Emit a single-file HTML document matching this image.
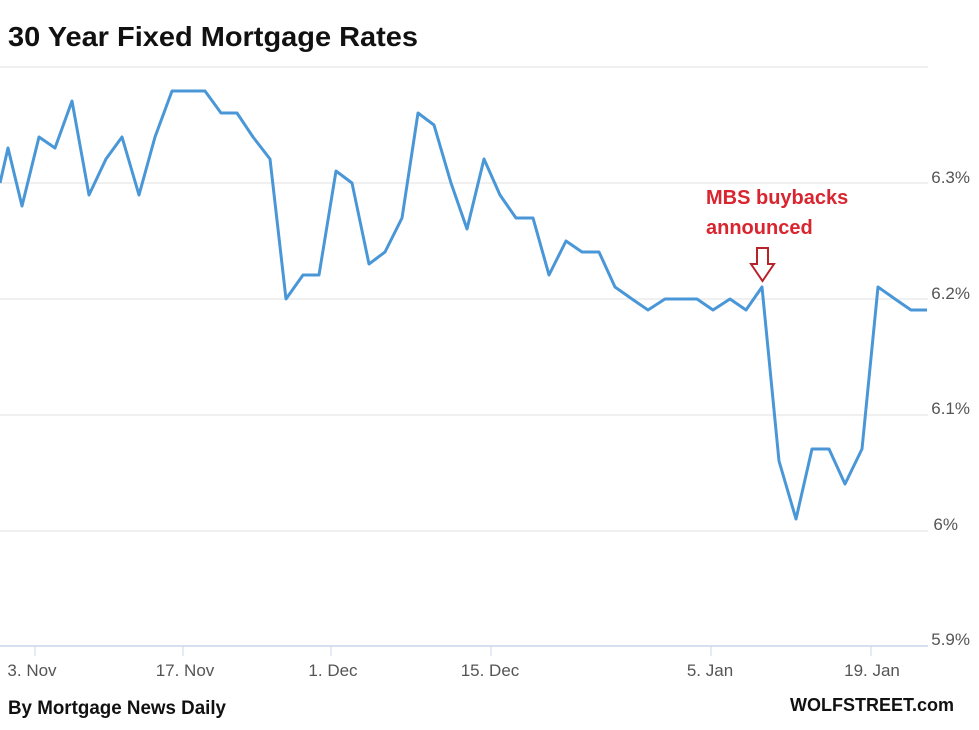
<!DOCTYPE html>
<html><head><style>
body{margin:0;background:#fff;width:979px;height:725px;overflow:hidden;font-family:"Liberation Sans",sans-serif}
</style></head><body>
<svg width="979" height="725" xmlns="http://www.w3.org/2000/svg">
<text x="8" y="46" font-size="28" font-weight="bold" fill="#111" textLength="410" lengthAdjust="spacingAndGlyphs">30 Year Fixed Mortgage Rates</text>
<g stroke="#e0e0e0" stroke-width="1">
<line x1="0" y1="67" x2="928" y2="67"/>
<line x1="0" y1="183" x2="928" y2="183"/>
<line x1="0" y1="299" x2="928" y2="299"/>
<line x1="0" y1="415" x2="928" y2="415"/>
<line x1="0" y1="531" x2="928" y2="531"/>
</g>
<line x1="0" y1="646" x2="928" y2="646" stroke="#ccd6eb" stroke-width="1.5"/>
<g stroke="#ccd6eb" stroke-width="1">
<line x1="35" y1="646" x2="35" y2="656"/><line x1="183" y1="646" x2="183" y2="656"/><line x1="331" y1="646" x2="331" y2="656"/>
<line x1="491" y1="646" x2="491" y2="656"/><line x1="711" y1="646" x2="711" y2="656"/><line x1="871" y1="646" x2="871" y2="656"/>
</g>
<g font-size="17" fill="#555" text-anchor="middle">
<text x="32" y="676">3. Nov</text><text x="185" y="676">17. Nov</text><text x="333" y="676">1. Dec</text>
<text x="490" y="676">15. Dec</text><text x="710" y="676">5. Jan</text><text x="872" y="676">19. Jan</text>
</g>
<g font-size="17" fill="#555" text-anchor="end">
<text x="970" y="183">6.3%</text><text x="970" y="299">6.2%</text><text x="970" y="414">6.1%</text>
<text x="958" y="530">6%</text><text x="970" y="645">5.9%</text>
</g>
<polyline fill="none" stroke="#4a97d8" stroke-width="3" stroke-linejoin="round" points="0,183 8,148 22,206 39,137 55,148 72,101 89,195 106,159 122,137 139,195 155,137 172,91 188,91 205,91 221,113 237,113 253,137 270,159 286,299 303,275 319,275 336,171 352,183 369,264 385,252 402,218 418,113 434,125 451,183 467,229 484,159 500,195 516,218 533,218 549,275 566,241 582,252 599,252 615,287 632,299 648,310 665,299 681,299 697,299 713,310 730,299 746,310 762,287 779,461 796,519 812,449 829,449 845,484 862,449 878,287 895,299 911,310 927,310"/>
<g font-size="20" font-weight="bold" fill="#d9252f">
<text x="706" y="204">MBS buybacks</text><text x="706" y="234">announced</text>
</g>
<path d="M757,248 H768 V264 H774 L762.5,281 L751,264 H757 Z" fill="#fff" stroke="#b8232b" stroke-width="2"/>
<text x="8" y="714" font-size="19" font-weight="bold" fill="#111" textLength="218" lengthAdjust="spacingAndGlyphs">By Mortgage News Daily</text>
<text x="954" y="711" font-size="18" font-weight="bold" fill="#111" text-anchor="end">WOLFSTREET.com</text>
</svg>
</body></html>
